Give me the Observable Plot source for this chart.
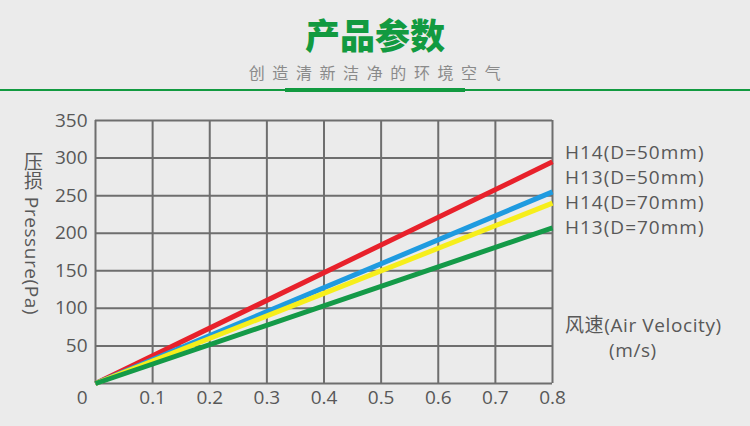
<!DOCTYPE html>
<html><head><meta charset="utf-8">
<script src="https://cdn.jsdelivr.net/npm/d3@7"></script>
<script src="https://cdn.jsdelivr.net/npm/@observablehq/plot@0.6"></script>
<style>
html,body{margin:0;padding:0;}
body{width:750px;height:426px;background:#ebebeb;position:relative;overflow:hidden;font-family:"Open Sans","Noto Sans CJK SC",sans-serif;color:#585858;}
.abs{position:absolute;white-space:nowrap;}
#title{left:0;width:750px;top:11px;text-align:center;font-family:"Noto Sans CJK SC",sans-serif;font-weight:900;font-size:35px;line-height:46px;color:#129a40;}
#sub{left:0;width:750px;top:60px;text-align:center;font-family:"Noto Sans CJK SC",sans-serif;font-size:16px;line-height:24px;letter-spacing:7.6px;color:#8a8a8a;text-indent:7px;}
#line1{left:0;top:89px;width:750px;height:1.5px;background:#129a40;}
#line2{left:285px;top:88px;width:180px;height:4px;background:#129a40;}
#chart{left:0;top:100px;}
#legend{left:565px;top:140px;font-size:19px;line-height:25px;letter-spacing:1px;}
#ylab{left:19px;top:152px;writing-mode:vertical-rl;text-orientation:mixed;font-size:19px;letter-spacing:0.6px;}
#xlab{left:565px;top:313px;font-size:19px;line-height:25px;letter-spacing:0.6px;}
</style></head>
<body>
<div id="title" class="abs"></div>
<div id="sub" class="abs"></div>
<div id="line1" class="abs"></div>
<div id="line2" class="abs"></div>
<div id="chart" class="abs"></div>
<div id="legend" class="abs"></div>
<div id="ylab" class="abs"></div>
<div id="xlab" class="abs"></div>
<script>
const titleText = "产品参数";
const subtitleText = "创造清新洁净的环境空气";
const yLabel = "压损 Pressure(Pa)";
const xLabelLines = ["风速(Air Velocity)", "(m/s)"];

const seriesNames = ["H14(D=50mm)", "H13(D=50mm)", "H14(D=70mm)", "H13(D=70mm)"];
const seriesColors = ["#e8212b", "#1f9be0", "#f6ee1b", "#149a48"];
const velocity = [0, 0.8];
const pressureH14D50 = [0, 295];
const pressureH13D50 = [0, 255];
const pressureH14D70 = [0, 240];
const pressureH13D70 = [0, 207];
const xTicks = [0.1, 0.2, 0.3, 0.4, 0.5, 0.6, 0.7, 0.8];
const yTicks = [50, 100, 150, 200, 250, 300, 350];
const gridX = [0, 0.1, 0.2, 0.3, 0.4, 0.5, 0.6, 0.7, 0.8];
const gridY = [0, 50, 100, 150, 200, 250, 300, 350];

document.getElementById("title").textContent = titleText;
document.getElementById("sub").textContent = subtitleText;
document.getElementById("ylab").textContent = yLabel;
document.getElementById("xlab").innerHTML = xLabelLines[0] + '<br><span style="padding-left:44px">' + xLabelLines[1] + '</span>';
document.getElementById("legend").innerHTML = seriesNames.join("<br>");

const allSeries = [pressureH14D50, pressureH13D50, pressureH14D70, pressureH13D70];
const rows = [];
allSeries.forEach((vals, i) => vals.forEach((v, j) => rows.push({name: seriesNames[i], x: velocity[j], y: v})));

const chart = Plot.plot({
  width: 750,
  height: 326,
  marginTop: 20,
  marginBottom: 43,
  marginLeft: 95,
  marginRight: 198,
  style: {background: "transparent", color: "#585858", fontFamily: "Open Sans, sans-serif", fontSize: "19px"},
  x: {domain: [0, 0.8]},
  y: {domain: [0, 350]},
  color: {domain: seriesNames, range: seriesColors},
  marks: [
    Plot.ruleX(gridX, {stroke: "#6e6e6e", strokeWidth: 2}),
    Plot.ruleY(gridY, {stroke: "#6e6e6e", strokeWidth: 2}),
    Plot.line(rows, {x: "x", y: "y", z: "name", stroke: "name", strokeWidth: 5, strokeLinecap: "butt"}),
    Plot.axisY(yTicks, {tickSize: 0, tickPadding: 8, label: null, fontSize: 19, fill: "#585858"}),
    Plot.axisY([0], {tickSize: 0, tickPadding: 8, dy: 14, label: null, fontSize: 19, fill: "#585858"}),
    Plot.axisX(xTicks, {tickSize: 0, tickPadding: 7, label: null, fontSize: 19, fill: "#585858"})
  ]
});
document.getElementById("chart").appendChild(chart);
</script>
</body></html>
